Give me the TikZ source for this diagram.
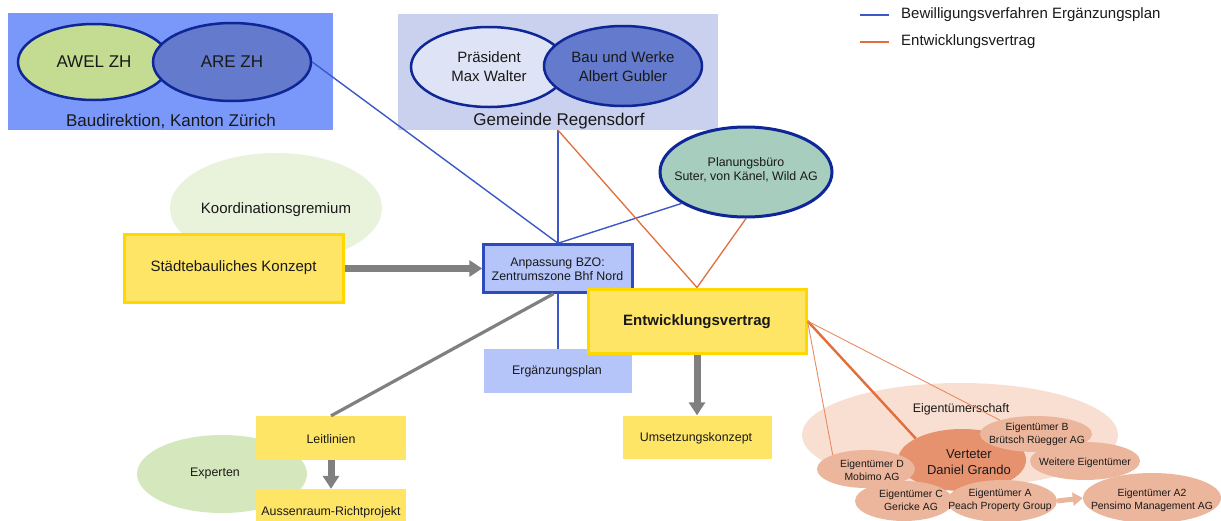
\documentclass[tikz,border=0pt]{standalone}
\usepackage{fontspec}
\setmainfont{Liberation Sans}
\usetikzlibrary{shapes.geometric,arrows.meta}

\definecolor{baublue}{RGB}{122,152,250}
\definecolor{awel}{RGB}{196,219,146}
\definecolor{midblue}{RGB}{100,122,204}
\definecolor{navy}{RGB}{14,38,150}
\definecolor{gembox}{RGB}{201,209,238}
\definecolor{praes}{RGB}{222,227,246}
\definecolor{koord}{RGB}{233,242,219}
\definecolor{yfill}{RGB}{255,229,102}
\definecolor{yedge}{RGB}{255,216,0}
\definecolor{lightblue}{RGB}{181,197,250}
\definecolor{boxblue}{RGB}{45,75,190}
\definecolor{planung}{RGB}{166,205,190}
\definecolor{experten}{RGB}{213,231,189}
\definecolor{grayarrow}{RGB}{128,128,128}
\definecolor{lineblue}{RGB}{60,88,200}
\definecolor{lineorange}{RGB}{226,110,60}
\definecolor{thinorange}{RGB}{232,140,95}
\definecolor{owners}{RGB}{249,222,210}
\definecolor{owner}{RGB}{236,182,157}
\definecolor{rep}{RGB}{231,146,110}
\definecolor{ink}{RGB}{25,25,25}

\begin{document}
\begin{tikzpicture}[x=1pt,y=-1pt,
  oval/.style={ellipse, inner sep=0pt},
  panel/.style={rectangle, inner sep=0pt},
  txt/.style={inner sep=0pt, align=center, text=ink},
  fs17/.style={font=\fontsize{17}{20}\selectfont},
  fs15/.style={font=\fontsize{15}{19}\selectfont},
  fs14/.style={font=\fontsize{15}{17}\selectfont},
  fs13/.style={font=\fontsize{13}{15.5}\selectfont},
  fs12/.style={font=\fontsize{12.4}{14.5}\selectfont},
  fs10/.style={font=\fontsize{10.4}{12.8}\selectfont},
  bline/.style={draw=lineblue, line width=1.4pt},
  oline/.style={draw=lineorange, line width=1.3pt},
  othick/.style={draw=lineorange, line width=2.4pt},
  othin/.style={draw=thinorange, line width=0.9pt},
  gline/.style={draw=grayarrow, line width=3.2pt},
  garrow/.style={draw=grayarrow, line width=7pt, -{Triangle[width=16pt,length=13pt]}},
  oarrow/.style={draw=owner, line width=5pt, -{Triangle[width=13pt,length=10pt]}},
  ybox/.style={panel, fill=yfill},
  bbox/.style={panel, fill=lightblue}]

\clip (0,0) rectangle (1221,520);
\fill[white] (0,0) rectangle (1221,520);

% Baudirektion, Kanton Zuerich
\node[panel, fill=baublue, minimum width=325pt, minimum height=117pt] (bau) at (170.5,71.5) {};
\node[oval, draw=navy, line width=2.5pt, fill=awel, minimum width=152pt, minimum height=76pt] (awel) at (94,62) {};
\node[oval, draw=navy, line width=2.5pt, fill=midblue, minimum width=158pt, minimum height=78pt] (are) at (232,62) {};
\node[txt, fs17] (awelt) at (94,62) {AWEL ZH};
\node[txt, fs17] (aret) at (232,62) {ARE ZH};
\node[txt, fs17] (baut) at (171,121) {Baudirektion, Kanton Zürich};

% Gemeinde Regensdorf
\node[panel, fill=gembox, minimum width=320pt, minimum height=116pt] (gem) at (558,72) {};
\node[oval, draw=navy, line width=2.5pt, fill=praes, minimum width=156pt, minimum height=80pt] (praes) at (489,67) {};
\node[oval, draw=navy, line width=2.5pt, fill=midblue, minimum width=158pt, minimum height=80pt] (bauw) at (623,66) {};
\node[txt, fs15] (praest) at (489,67) {Präsident\\Max Walter};
\node[txt, fs15] (bauwt) at (623,67) {Bau und Werke\\Albert Gubler};
\node[txt, fs17] (gemt) at (559,121) {Gemeinde Regensdorf};

% Legend
\coordinate (lb1) at (860,15);
\coordinate (lb2) at (889,15);
\coordinate (lo1) at (860,42);
\coordinate (lo2) at (889,42);
\draw[bline] (lb1) -- (lb2);
\draw[oline] (lo1) -- (lo2);
\node[txt, fs14, anchor=west] (legb) at (901,15) {Bewilligungsverfahren Ergänzungsplan};
\node[txt, fs14, anchor=west] (lego) at (901,42) {Entwicklungsvertrag};

% Left column
\node[oval, fill=koord, minimum width=212pt, minimum height=110pt] (koord) at (276,208) {};
\node[txt, fs15] (koordt) at (276,210) {Koordinationsgremium};
\node[ybox, draw=yedge, line width=3pt, minimum width=219pt, minimum height=68pt] (sk) at (233.5,268.5) {};
\node[txt, fs15] (skt) at (233.5,268) {Städtebauliches Konzept};

\node[oval, fill=experten, minimum width=170pt, minimum height=78pt] (exp) at (222,474) {};
\node[txt, fs12] (expt) at (215,474) {Experten};
\node[ybox, minimum width=150pt, minimum height=44pt] (leit) at (331,438) {};
\node[txt, fs12] (leitt) at (331,439) {Leitlinien};
\node[ybox, minimum width=150pt, minimum height=46pt] (aus) at (331,512) {};
\node[txt, fs12] (aust) at (331,512) {Aussenraum-Richtprojekt};

% Centre
\node[bbox, draw=boxblue, line width=2.5pt, minimum width=149pt, minimum height=48pt] (anp) at (558,268.5) {};
\node[txt, fs12] (anpt) at (557.5,269) {Anpassung BZO:\\Zentrumszone Bhf Nord};
\node[bbox, minimum width=148pt, minimum height=44pt] (erg) at (558,371) {};
\node[txt, fs12] (ergt) at (557,371) {Ergänzungsplan};

\node[oval, draw=navy, line width=3pt, fill=planung, minimum width=172pt, minimum height=90pt] (pb) at (746,172) {};
\node[txt, fs12] (pbt) at (746,170) {Planungsbüro\\Suter, von Känel, Wild AG};

\node[ybox, draw=yedge, line width=3pt, minimum width=218pt, minimum height=64pt] (ent) at (697,321) {};
\node[txt, font=\fontsize{15}{18}\selectfont\bfseries] (entt) at (697,322) {Entwicklungsvertrag};
\node[ybox, minimum width=149pt, minimum height=43pt] (ums) at (697,437) {};
\node[txt, fs12] (umst) at (696,438) {Umsetzungskonzept};

% Owners
\node[oval, fill=owners, minimum width=316pt, minimum height=104pt] (eig) at (960,435) {};
\node[txt, fs12] (eigt) at (961,409) {Eigentümerschaft};
\node[oval, fill=rep, minimum width=128pt, minimum height=62pt] (ver) at (962,460) {};
\node[oval, fill=owner, minimum width=112pt, minimum height=36pt] (ob) at (1036,434) {};
\node[oval, fill=owner, minimum width=110pt, minimum height=38pt] (ow) at (1085,461) {};
\node[oval, fill=owner, minimum width=98pt, minimum height=38pt] (od) at (866,469) {};
\node[oval, fill=owner, minimum width=98pt, minimum height=40pt] (oc) at (904,501) {};
\node[oval, fill=owner, minimum width=110pt, minimum height=42pt] (oa) at (1002,501) {};
\node[oval, fill=owner, minimum width=138pt, minimum height=50pt] (oa2) at (1152,498) {};
\node[txt, fs13] (vert) at (969,462) {Verteter\\Daniel Grando};
\node[txt, fs10] (obt) at (1037,434) {Eigentümer B\\Brütsch Rüegger AG};
\node[txt, fs10] (owt) at (1085,463) {Weitere Eigentümer};
\node[txt, fs10] (odt) at (872,470) {Eigentümer D\\Mobimo AG};
\node[txt, fs10] (oct) at (911,500) {Eigentümer C\\Gericke AG};
\node[txt, fs10] (oat) at (1000,500) {Eigentümer A\\Peach Property Group};
\node[txt, fs10] (oa2t) at (1152,500) {Eigentümer A2\\Pensimo Management AG};
\draw[oarrow] (oa.east) -- (oa2.west);

% Connectors
\draw[gline] (anp.260) -- (leit.north);
\draw[bline] (are.east) -- (anp.north);
\draw[bline] (gem.south) -- (anp.north);
\draw[bline] (pb.206) -- (anp.north);
\draw[bline] (anp.south) -- (erg.north);
\draw[oline] (gem.south) -- (ent.north);
\draw[oline] (pb.south) -- (ent.north);
\draw[garrow] (sk.east) -- (anp.west);
\draw[garrow] (leit.south) -- (aus.north);
\draw[garrow] (ent.south) -- (ums.north);
\draw[othick] (ent.east) -- (ver.155);
\draw[othin] (ent.east) -- (od.157);
\draw[othin] (ent.east) -- (ob.159);

\end{tikzpicture}
\end{document}
